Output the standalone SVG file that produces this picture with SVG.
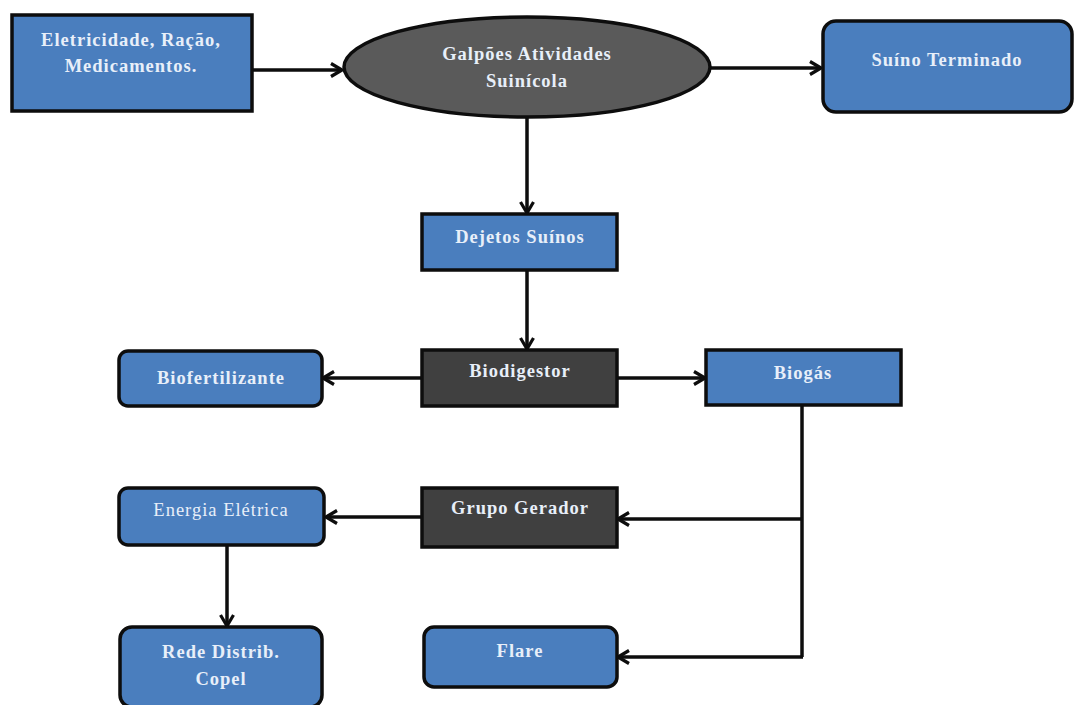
<svg xmlns="http://www.w3.org/2000/svg" width="1074" height="705" viewBox="0 0 1074 705">
<defs>
<style>
.blue{fill:#4a7ebe;stroke:#0d0d0d;stroke-width:3.5}
.dark{fill:#404040;stroke:#0d0d0d;stroke-width:3.5}
.ell{fill:#5a5a5a;stroke:#0d0d0d;stroke-width:3.5}
.t{font-family:"Liberation Serif","Times New Roman",serif;font-size:18.5px;font-weight:bold;fill:#e8eff9;text-anchor:middle;letter-spacing:1px}
.tr{font-weight:normal}
.c{fill:none;stroke:#0d0d0d;stroke-width:3.5}
</style>
<marker id="ah" viewBox="0 0 16 16" refX="14" refY="8" markerWidth="16" markerHeight="16" markerUnits="userSpaceOnUse" orient="auto">
<path d="M3,1.5 L14,8 L3,14.5" fill="none" stroke="#0d0d0d" stroke-width="3.2"/>
</marker>
</defs>
<rect width="1074" height="705" fill="#ffffff"/>
<g id="connectors">
<line class="c" x1="252" y1="70" x2="342" y2="70" marker-end="url(#ah)"/>
<line class="c" x1="710" y1="68" x2="821" y2="68" marker-end="url(#ah)"/>
<line class="c" x1="527" y1="118" x2="527" y2="213" marker-end="url(#ah)"/>
<line class="c" x1="527" y1="270" x2="527" y2="349" marker-end="url(#ah)"/>
<line class="c" x1="422" y1="378" x2="323" y2="378" marker-end="url(#ah)"/>
<line class="c" x1="617" y1="378" x2="705" y2="378" marker-end="url(#ah)"/>
<polyline class="c" points="802,405 802,657"/>
<line class="c" x1="803" y1="519" x2="618" y2="519" marker-end="url(#ah)"/>
<line class="c" x1="803" y1="657" x2="618" y2="657" marker-end="url(#ah)"/>
<line class="c" x1="422" y1="517" x2="326" y2="517" marker-end="url(#ah)"/>
<line class="c" x1="227" y1="545" x2="227" y2="626" marker-end="url(#ah)"/>
</g>
<g id="n-insumos">
<rect class="blue" x="12" y="15" width="240" height="96"/>
<text class="t" x="131" y="46">Eletricidade, Ração,</text>
<text class="t" x="131" y="72">Medicamentos.</text>
</g>
<g id="n-galpoes">
<ellipse class="ell" cx="527" cy="67" rx="183" ry="50"/>
<text class="t" x="527" y="60">Galpões Atividades</text>
<text class="t" x="527" y="87">Suinícola</text>
</g>
<g id="n-suino">
<rect class="blue" x="823" y="21" width="249" height="91" rx="13"/>
<text class="t" x="947" y="66">Suíno Terminado</text>
</g>
<g id="n-dejetos">
<rect class="blue" x="422" y="214" width="195" height="56"/>
<text class="t" x="520" y="243">Dejetos Suínos</text>
</g>
<g id="n-biodigestor">
<rect class="dark" x="422" y="350" width="195" height="56"/>
<text class="t" x="520" y="377">Biodigestor</text>
</g>
<g id="n-biofertilizante">
<rect class="blue" x="119" y="351" width="203" height="55" rx="9"/>
<text class="t" x="221" y="384">Biofertilizante</text>
</g>
<g id="n-biogas">
<rect class="blue" x="706" y="350" width="195" height="55"/>
<text class="t" x="803" y="379">Biogás</text>
</g>
<g id="n-gerador">
<rect class="dark" x="422" y="488" width="195" height="59"/>
<text class="t" x="520" y="514">Grupo Gerador</text>
</g>
<g id="n-energia">
<rect class="blue" x="119" y="488" width="205" height="57" rx="9"/>
<text class="t tr" x="221" y="516">Energia Elétrica</text>
</g>
<g id="n-rede">
<rect class="blue" x="120" y="627" width="202" height="80" rx="12"/>
<text class="t" x="221" y="658">Rede Distrib.</text>
<text class="t" x="221" y="685">Copel</text>
</g>
<g id="n-flare">
<rect class="blue" x="424" y="627" width="193" height="60" rx="10"/>
<text class="t" x="520" y="657">Flare</text>
</g>
</svg>
